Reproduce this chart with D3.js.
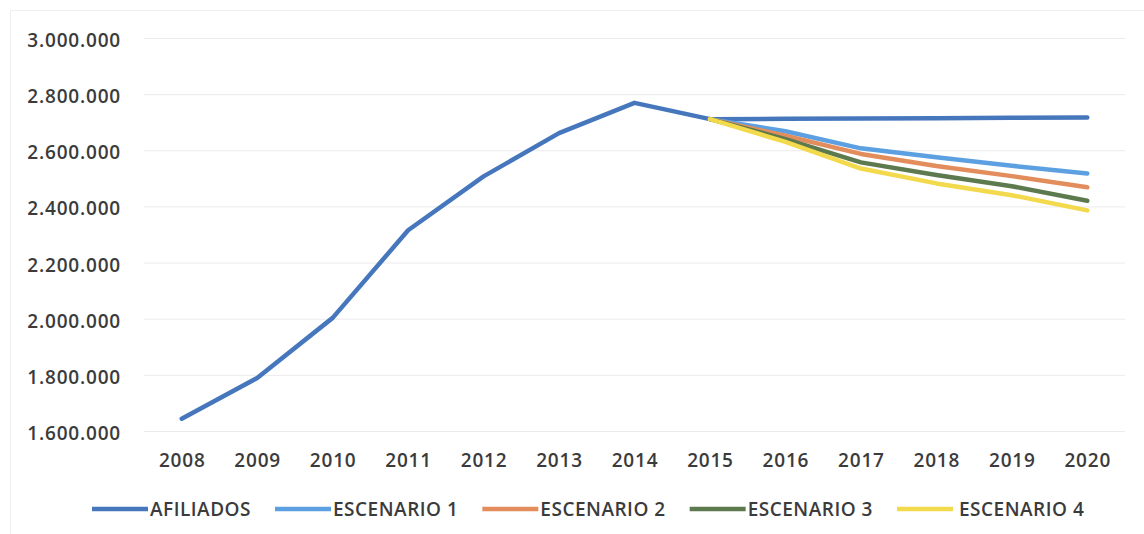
<!DOCTYPE html>
<html>
<head>
<meta charset="utf-8">
<script src="https://cdn.jsdelivr.net/npm/d3@7"></script>
<style>
  body { margin: 0; background: #fff; }
  svg { display: block; }
  .tick-label { font-family: 'Open Sans', sans-serif; font-weight: 600; fill: #3b3b3b; }
  .grid line { stroke: #ebebeb; stroke-width: 1; }
  .serie { fill: none; stroke-width: 4.5; stroke-linejoin: round; stroke-linecap: round; }
</style>
</head>
<body>
<div id="chart"></div>
<script>
const years = ['2008', '2009', '2010', '2011', '2012', '2013', '2014', '2015', '2016', '2017', '2018', '2019', '2020'];
const yTicks = [1600000, 1800000, 2000000, 2200000, 2400000, 2600000, 2800000, 3000000];

const afiliados = [1644000, 1789000, 2003000, 2315000, 2507000, 2661000, 2769000, 2711000, 2712000, 2713000, 2714000, 2716000, 2717000];
const escenario1 = [null, null, null, null, null, null, null, 2711000, 2668000, 2607000, 2575000, 2545000, 2517000];
const escenario2 = [null, null, null, null, null, null, null, 2711000, 2652000, 2587000, 2544000, 2508000, 2468000];
const escenario3 = [null, null, null, null, null, null, null, 2711000, 2640000, 2557000, 2512000, 2472000, 2420000];
const escenario4 = [null, null, null, null, null, null, null, 2711000, 2630000, 2535000, 2482000, 2440000, 2386000];

const seriesNames = ['AFILIADOS', 'ESCENARIO 1', 'ESCENARIO 2', 'ESCENARIO 3', 'ESCENARIO 4'];
const seriesColors = ['#4677bd', '#5da0e2', '#e38d5c', '#5d7a4e', '#f3d94c'];

const width = 1144;
const height = 534;

const series = [afiliados, escenario1, escenario2, escenario3, escenario4]
  .map((values, i) => ({
    name: seriesNames[i],
    color: seriesColors[i],
    points: values.map((v, j) => ({ year: years[j], value: v }))
  }));

const locale = d3.formatLocale({ decimal: ',', thousands: '.', grouping: [3], currency: ['', ''] });
const fmt = locale.format(',d');

const x = d3.scalePoint()
  .domain(years)
  .range([144, 1125])
  .padding(0.5);

const y = d3.scaleLinear()
  .domain([1600000, 3000000])
  .range([431, 38]);

const svg = d3.select('#chart')
  .append('svg')
  .attr('width', width)
  .attr('height', height);

// faint frame of the original chart area
svg.append('path')
  .attr('d', `M10.5,${height} V10.5 H${width}`)
  .attr('fill', 'none')
  .attr('stroke', '#eeeeee');

svg.append('g')
  .attr('class', 'grid')
  .attr('transform', 'translate(144,0)')
  .call(d3.axisLeft(y)
    .tickValues(yTicks)
    .tickSize(-(1125 - 144))
    .tickFormat(''))
  .call(g => g.select('.domain').remove());

const yAxis = svg.append('g')
  .attr('transform', 'translate(144,0)')
  .call(d3.axisLeft(y)
    .tickValues(yTicks)
    .tickSize(0)
    .tickFormat(fmt));
yAxis.select('.domain').remove();
yAxis.selectAll('text')
  .attr('class', 'tick-label')
  .attr('x', -23)
  .attr('dy', '0.45em')
  .style('font-size', '19px')
  .style('letter-spacing', '0.8px');

const xAxis = svg.append('g')
  .attr('transform', 'translate(0,431)')
  .call(d3.axisBottom(x).tickSize(0));
xAxis.select('.domain').remove();
xAxis.selectAll('text')
  .attr('class', 'tick-label')
  .attr('y', 29)
  .attr('dy', '0.35em')
  .style('font-size', '19px')
  .style('letter-spacing', '0.8px');

svg.selectAll('text').attr('font-family', null);

const line = d3.line()
  .defined(d => d.value !== null)
  .x(d => x(d.year))
  .y(d => y(d.value));

svg.selectAll('.serie')
  .data(series)
  .enter().append('path')
  .attr('class', 'serie')
  .attr('stroke', d => d.color)
  .attr('d', d => line(d.points));

// legend, laid out left to right from measured text widths
const legend = svg.append('g').attr('transform', 'translate(0,509)');
let cursor = 92;
series.forEach((s, i) => {
  legend.append('line')
    .attr('x1', cursor)
    .attr('x2', cursor + 56)
    .attr('stroke', s.color)
    .attr('stroke-width', 4.5);
  const gap = i === series.length - 1 ? 6 : 2;
  const t = legend.append('text')
    .attr('class', 'tick-label')
    .attr('x', cursor + 56 + gap)
    .attr('dy', '0.36em')
    .style('font-size', '19px')
    .style('letter-spacing', '0.5px')
    .text(s.name);
  cursor += 56 + gap + t.node().getComputedTextLength() + 24;
});
</script>
</body>
</html>
